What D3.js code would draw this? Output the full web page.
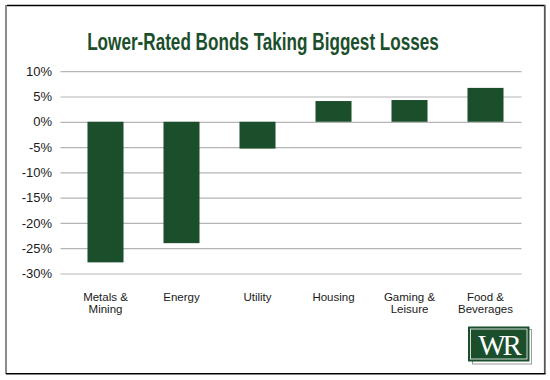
<!DOCTYPE html>
<html>
<head>
<meta charset="utf-8">
<script src="https://cdn.jsdelivr.net/npm/d3@7"></script>
<style>
  html, body { margin: 0; padding: 0; background: #fff; }
  svg { display: block; }
</style>
</head>
<body>
<div id="chart"></div>
<script>
const title = "Lower-Rated Bonds Taking Biggest Losses";
const categories = ["Metals & Mining", "Energy", "Utility", "Housing", "Gaming & Leisure", "Food & Beverages"];
const values = [-27.8, -24.0, -5.3, 4.1, 4.3, 6.7];
const yTicks = [10, 5, 0, -5, -10, -15, -20, -25, -30];

const W = 550, H = 380;
const green = "#1b4f2c";

const svg = d3.select("#chart").append("svg").attr("width", W).attr("height", H);
svg.append("rect").attr("width", W).attr("height", H).attr("fill", "#fff");

// frame
svg.append("line").attr("x1", 6).attr("x2", 6).attr("y1", 5).attr("y2", 374).attr("stroke", "#8c8c8c").attr("stroke-width", 2);
svg.append("line").attr("x1", 7).attr("x2", 545).attr("y1", 5.5).attr("y2", 5.5).attr("stroke", "#000").attr("stroke-width", 1.5);
svg.append("line").attr("x1", 544.8).attr("x2", 544.8).attr("y1", 5).attr("y2", 374).attr("stroke", "#555").attr("stroke-width", 1.8);
svg.append("line").attr("x1", 6).attr("x2", 545.5).attr("y1", 373.7).attr("y2", 373.7).attr("stroke", "#000").attr("stroke-width", 1.5);

// title (condensed by horizontal scaling to the reference width)
const tg = svg.append("g");
const tt = tg.append("text")
  .attr("x", 0).attr("y", 0)
  .attr("text-anchor", "middle")
  .attr("font-family", "'Liberation Sans', Arial, sans-serif")
  .attr("font-weight", "bold")
  .attr("font-size", 23)
  .attr("fill", green)
  .text(title);
const natural = tt.node().getComputedTextLength() || 352;
tg.attr("transform", `translate(263,50) scale(${352 / natural},1)`);

const y = d3.scaleLinear().domain([-30, 10]).range([273.5, 71.2]);
const x = d3.scaleBand().domain(categories).range([67.5, 523.5]).paddingInner(0.526).paddingOuter(0.263);

// grid
const yAxis = d3.axisLeft(y).tickValues(yTicks).tickSize(-461).tickPadding(7).tickFormat(d => d + "%");
const gy = svg.append("g").attr("transform", "translate(60.5,0)").call(yAxis);
gy.select(".domain").remove();
gy.selectAll(".tick line").attr("stroke", "#b5b5b5").attr("stroke-width", 1.2);
gy.selectAll(".tick text")
  .attr("font-family", "'Liberation Sans', Arial, sans-serif")
  .attr("font-size", 13)
  .attr("fill", "#1a1a1a")
  .attr("x", -8.5);

// bars
svg.append("g").selectAll("rect").data(categories).join("rect")
  .attr("x", d => x(d))
  .attr("width", x.bandwidth())
  .attr("y", (d, i) => y(Math.max(0, values[i])))
  .attr("height", (d, i) => Math.abs(y(values[i]) - y(0)))
  .attr("fill", green);

// category labels
const labels = svg.append("g");
categories.forEach(c => {
  const lines = c.includes(" & ") ? [c.split(" & ")[0] + " &", c.split(" & ")[1]] : [c];
  lines.forEach((l, i) => {
    labels.append("text")
      .attr("x", x(c) + x.bandwidth() / 2)
      .attr("y", 300.5 + i * 12.5)
      .attr("text-anchor", "middle")
      .attr("font-family", "'Liberation Sans', Arial, sans-serif")
      .attr("font-size", 11.5)
      .attr("fill", "#1a1a1a")
      .text(l);
  });
});

// logo
const logo = svg.append("g");
logo.append("rect").attr("x", 472.5).attr("y", 329.5).attr("width", 59).attr("height", 34.5)
  .attr("fill", "none").attr("stroke", "#9a9a9a").attr("stroke-width", 1);
logo.append("rect").attr("x", 468).attr("y", 326.5).attr("width", 61.5).attr("height", 35)
  .attr("fill", green);
logo.append("rect").attr("x", 470.5).attr("y", 329).attr("width", 56.5).attr("height", 30)
  .attr("fill", "none").attr("stroke", "#fff").attr("stroke-width", 0.8);
logo.append("text").attr("x", 498.5).attr("y", 355).attr("text-anchor", "middle")
  .attr("font-family", "'Liberation Serif', 'DejaVu Serif', serif")
  .attr("font-size", 29).attr("fill", "#fff").attr("letter-spacing", -3)
  .text("WR");
</script>
</body>
</html>
